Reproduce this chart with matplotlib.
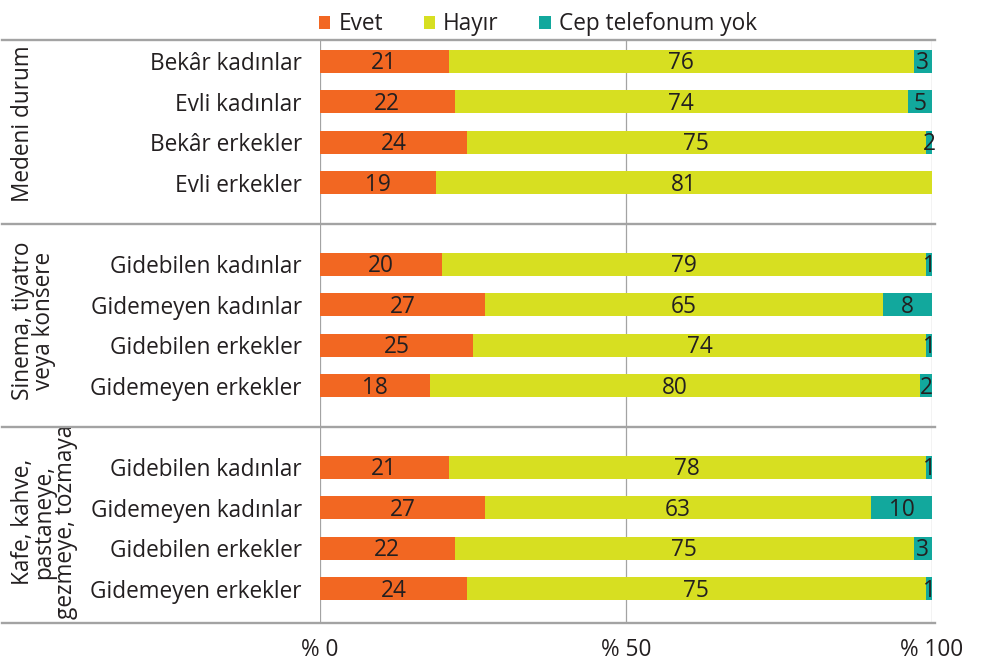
import matplotlib
matplotlib.use('Agg')
import matplotlib.pyplot as plt
import matplotlib.transforms as mtransforms
import numpy as np

plt.rcParams['font.family'] = ['Open Sans', 'DejaVu Sans']

# veriler
groups = ['Medeni durum', 'Sinema, tiyatro\nveya konsere', 'Kafe, kahve,\npastaneye,\ngezmeye, tozmaya']
group_centers = [1.55, 6.4, 11.35]
categories = [
    ['Bekâr kadınlar', 'Evli kadınlar', 'Bekâr erkekler', 'Evli erkekler'],
    ['Gidebilen kadınlar', 'Gidemeyen kadınlar', 'Gidebilen erkekler', 'Gidemeyen erkekler'],
    ['Gidebilen kadınlar', 'Gidemeyen kadınlar', 'Gidebilen erkekler', 'Gidemeyen erkekler'],
]
evet = [21, 22, 24, 19, 20, 27, 25, 18, 21, 27, 22, 24]
hayir = [76, 74, 75, 81, 79, 65, 74, 80, 78, 63, 75, 75]
yok = [3, 5, 2, 0, 1, 8, 1, 2, 1, 10, 3, 1]
series_names = ['Evet', 'Hayır', 'Cep telefonum yok']
colors = ['#F26722', '#D7DF21', '#12A89D']
xticks = [0, 50, 100]
xtick_labels = ['% 0', '% 50', '% 100']

text_color = '#231F20'
line_color = '#A3A3A3'
fs = 16.3

# satir konumlari: her grup 4 satir + 1 bosluk
pos = []
labels = []
for g, cats in enumerate(categories):
    for i, c in enumerate(cats):
        pos.append(g * 5 + i)
        labels.append(c)
pos = np.array(pos)

fig = plt.figure(figsize=(9.96, 6.64), dpi=100)
ax = fig.add_axes([320 / 996, 1 - 623 / 664, 612 / 996, 583 / 664])

left = np.zeros(len(pos))
bars = []
for vals, name, col in zip([evet, hayir, yok], series_names, colors):
    vals = np.array(vals, dtype=float)
    b = ax.barh(pos, vals, left=left, height=0.57, color=col, label=name, zorder=2)
    bars.append(b)
    for y, l, v in zip(pos, left, vals):
        if v > 0:
            cx = l + v / 2
            if l + v > 100:
                cx = (l + 100) / 2
            ax.text(cx, y + 0.05, f'{int(v)}', ha='center', va='center',
                    fontsize=fs, color=text_color, zorder=3)
    left = left + vals

ax.set_xlim(0, 100)
ax.set_ylim(13.84, -0.52)

for x in xticks:
    ax.axvline(x, color=line_color, lw=0.9, zorder=1)

trans = mtransforms.blended_transform_factory(ax.transAxes, ax.transData)
for yv in [-0.52, 4, 9, 13.84]:
    ax.plot([-0.52, 1.005], [yv, yv], transform=trans, color=line_color,
            lw=1.7, clip_on=False, zorder=4)

for s in ax.spines.values():
    s.set_visible(False)

ax.set_xticks(xticks)
ax.set_xticklabels(xtick_labels, fontsize=fs, color=text_color)
ax.set_yticks(pos)
ax.set_yticklabels(labels, fontsize=fs, color=text_color)
ax.tick_params(axis='x', length=0, pad=11)
ax.tick_params(axis='y', length=0, pad=13)

# grup basliklari
for name, yc in zip(groups, group_centers):
    ax.text(-0.505, yc, name, transform=trans, rotation=90,
            ha='left', va='center', multialignment='center',
            fontsize=fs, color=text_color, linespacing=0.85)

fig.legend(handles=bars, labels=series_names, loc='upper center',
           bbox_to_anchor=(0.54, 1.012), ncol=3, frameon=False, fontsize=fs,
           handlelength=0.5, handleheight=0.5, handletextpad=0.35,
           columnspacing=1.8, labelcolor=text_color)

fig.savefig('out.png', dpi=100)
